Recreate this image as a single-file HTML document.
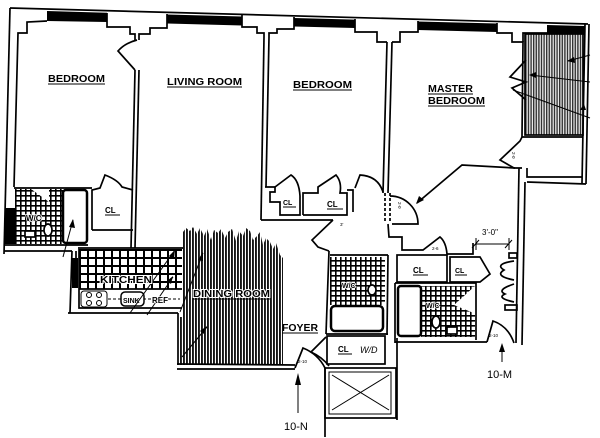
<!DOCTYPE html>
<html><head><meta charset="utf-8"><style>
html,body{margin:0;padding:0;background:#fff;}
svg{display:block;}
text{font-family:"Liberation Sans",sans-serif;fill:#000;}
.b{font-weight:bold;font-size:10px;}
.s{font-weight:bold;font-size:8px;}
.t{font-size:4.5px;}
</style></head><body>
<svg width="600" height="438" viewBox="0 0 600 438" xmlns="http://www.w3.org/2000/svg">
<defs>
<pattern id="hd" width="3" height="4" patternUnits="userSpaceOnUse"><rect width="3" height="4" fill="#fff"/><rect width="1.9" height="4" fill="#151515"/></pattern>
<pattern id="hc" width="2.6" height="4" patternUnits="userSpaceOnUse"><rect width="2.6" height="4" fill="#eee"/><rect width="1.4" height="4" fill="#333"/></pattern>
<pattern id="tk" x="79" y="249" width="8" height="8" patternUnits="userSpaceOnUse"><rect width="8" height="8" fill="#fff"/><path d="M0 1H8M1 0V8" stroke="#000" stroke-width="2"/></pattern>
<pattern id="tb" width="5" height="5" patternUnits="userSpaceOnUse"><rect width="5" height="5" fill="#fff"/><path d="M0 .8H5M.8 0V5" stroke="#000" stroke-width="1.6"/></pattern>
</defs>

<g fill="#000">
<polygon points="47,11 107,12.7 107,22 47,21"/>
<polygon points="167,14.5 242,16.5 242,25.5 167,23.5"/>
<polygon points="294,18 355,19.6 355,28 294,26.5"/>
<polygon points="418,21.5 497,23.5 497,32 418,30"/>
<polygon points="547,25 585,26 585,35 547,34"/>
<rect x="5" y="208" width="10" height="36"/>
<rect x="72" y="258" width="6" height="30"/>
</g>

<rect x="525" y="34" width="58" height="101" fill="url(#hc)" stroke="#000" stroke-width="1.7"/>

<polygon fill="url(#hd)" points="183,232 186,228 190,231 193,227 197,234 200,228 204,236 207,229 211,240 214,230 218,233 221,229 225,238 228,232 232,229 236,241 239,231 243,236 246,228 250,231 253,240 257,236 260,232 263,245 266,238 270,242 273,249 276,243 280,255 283,258 283,365 180,365 180,317 183,317"/>

<rect x="79" y="249" width="103" height="40" fill="url(#tk)"/>
<rect x="15" y="189" width="48" height="55" fill="url(#tb)"/>
<polygon points="31,189 49,189 49,202" fill="#fff"/>
<rect x="330" y="257" width="55" height="48" fill="url(#tb)"/>
<rect x="421" y="286" width="54" height="51" fill="url(#tb)"/>
<polygon points="476,285 454,305 476,314" fill="#fff"/>

<g fill="none" stroke="#000" stroke-width="1.7" stroke-linejoin="miter">
<path d="M10,8 L588,24"/>
<path d="M10,8 L4,254"/>
<path d="M14,187 L18,33 L27,33 L27,22 L47,21"/>
<path d="M107,13 L107,27 L130,27 L130,34 L135,34 L135,40"/>
<path d="M139,40 L139,34 L150,34 L150,28 L167,28 L167,14"/>
<path d="M135,70 L131,248"/><path d="M139,70 L135,248"/>
<path d="M135,70 L118,51 Q125,43 137,40"/>
<path d="M242,15 L242,27 L257,27 L257,33 L264,33 L264,37"/>
<path d="M269,37 L269,33 L277,33 L277,29 L294,29 L294,17"/>
<path d="M264,37 L261,220"/><path d="M269,37 L266,187"/>
<path d="M355,19 L355,32 L377,32 L377,42 L387,42"/>
<path d="M392,42 L400,42 L400,32 L418,32 L418,21"/>
<path d="M387,42 L383,193"/><path d="M392,42 L388,193"/>
<path d="M497,23 L497,33 L512,33 L512,42 L523,42 L522,137"/>
<path d="M523,42 L523,33 L547,33"/>
<path d="M585,24 L582,183"/><path d="M589,24 L586,184"/>
<path d="M526,60 L510,77 L526,82 L512,88 L526,100"/>
<path d="M522,137 L583,137"/>
<path d="M522,137 L520,141 L500,160 L514,168 L522,168"/>
<path d="M527,168 L527,177 L582,177"/>
<path d="M586,184 L527,182"/>
<path d="M519,168 L516,343"/><path d="M525,182 L522,345"/>
<path d="M385,193 L385,223 M390,193 L390,223" stroke-dasharray="3,2"/>
<path d="M390,196 A28,28 0 0 1 418,224 L392,224"/>
<path d="M515,168 L462,165 L417,203"/>
<path d="M265,187 L275,187 L275,192 L270,192 L270,202 L280,202 L280,215 L300,215 L300,196"/>
<path d="M275,187 L291,175 Q299,180 300,196"/>
<path d="M303,215 L303,193 L318,193 L318,187 L336,175 Q342,182 340,193 L347,193 L347,215 L303,215"/>
<path d="M347,190 L353,190 L353,212"/>
<path d="M261,220 L333,220"/>
<path d="M355,188 L360,175 Q378,176 383,192"/>
<path d="M333,220 L312,240 L318,247 L329,251"/>
<path d="M329,251 L326,334"/>
<path d="M330,255 L388,255"/>
<path d="M388,224 L389,237 L402,237 L402,250 L423,250 L440,237 Q446,242 447,254 L473,254 L473,243"/>
<path d="M388,255 L387,335"/>
<path d="M326,334 L388,334"/>
<rect x="331" y="306" width="52" height="25" rx="4" stroke-width="2.5" fill="#fff"/>
<rect x="397" y="255" width="50" height="27"/>
<path d="M450,257 L480,257 L490,274 L480,282 L450,282 Z"/>
<path d="M395,283 L476,283 L476,340"/>
<path d="M395,283 L395,343"/>
<rect x="398" y="286" width="23" height="50" rx="3" stroke-width="2.5" fill="#fff"/>
<path d="M395,342 L487,342 M397,338 L397,420"/>
<path d="M475,244 L508,244 M476,238 L476,250 M509,238 L509,250 M472,248 L479,240 M505,248 L512,240" stroke-width="1"/>
<rect x="509" y="253" width="8" height="5"/>
<rect x="505" y="305" width="12" height="5"/>
<path d="M514,261 Q494,264 504,270 Q494,276 514,280"/>
<path d="M514,284 Q496,290 505,294 Q496,298 514,302"/>
<path d="M487,342 L493,321 Q508,326 514,343"/>
<rect x="327" y="336" width="58" height="28"/>
<path d="M326,337 L311,352 Q322,357 329,366"/>
<path d="M177,364 L295,365 M177,369 L295,369"/>
<path d="M295,368 L303,348 Q318,354 325,368"/>
<path d="M325,368 L325,437"/>
<rect x="325" y="368" width="71" height="50"/>
<rect x="329" y="372" width="62" height="42" stroke-width="1"/>
<path d="M332,375 L389,410 M389,375 L332,410" stroke-width="1"/>
<path d="M14,188 L92,188"/>
<rect x="63" y="190" width="24" height="53" rx="3" stroke-width="2.5" fill="#fff"/>
<path d="M92,230 L92,190 L100,188 L105,175 Q118,180 122,187 L133,190 M92,230 L133,230"/>
<path d="M5,245 L88,245"/>
<path d="M4,251 L72,251 M72,251 L70,313 M76,251 L76,258"/>
<path d="M78,248 L183,248 M79,289 L182,289 M79,249 L79,308 L182,308"/>
<path d="M68,313 L178,313 M178,313 L178,365"/>
<path d="M108,299 L180,299" stroke-dasharray="3,2" stroke-width="1"/>
<rect x="81" y="291" width="26" height="16" rx="3" fill="#fff" stroke-width="1"/>
<circle cx="89" cy="295" r="2.5" stroke-width="1"/><circle cx="99" cy="295" r="2.5" stroke-width="1"/>
<circle cx="89" cy="303" r="2.5" stroke-width="1"/><circle cx="99" cy="303" r="2.5" stroke-width="1"/>
<rect x="121" y="292" width="23" height="14" rx="4" fill="#fff" stroke-width="1.5"/>
<ellipse cx="48" cy="230" rx="4" ry="6" fill="#fff"/>
<rect x="25" y="231" width="10" height="6" fill="#fff"/>
<ellipse cx="372" cy="290" rx="4" ry="5" fill="#fff"/>
<ellipse cx="436" cy="322" rx="4" ry="6" fill="#fff"/>
<rect x="447" y="327" width="10" height="7" fill="#fff"/>
<g stroke-width="1">
<path d="M590,55 L568,61 M590,82 L530,75 M590,118 L513,90"/>
<path d="M63,257 L73,220"/>
<path d="M130,313 L175,250 M147,315 L173,277"/>
<path d="M180,312 L203,253 M182,357 L207,327"/>
<path d="M298,413 L298,380 M502,362 L502,347"/>
</g>
</g>
<g fill="#000">
<polygon points="567,61 574,57 575,63"/>
<polygon points="529,75 536,72 536,78"/>
<polygon points="584,104 580,110 586,110"/>
<polygon points="416,204 419,196 424,200"/>
<polygon points="73,219 69,227 75,228"/>
<polygon points="175,250 169,256 174,259"/>
<polygon points="173,276 167,281 171,284"/>
<polygon points="203,252 198,260 203,261"/>
<polygon points="207,326 200,331 204,334"/>
<polygon points="298,373 295,385 301,385"/>
<polygon points="502,343 499,352 505,352"/>
</g>

<g class="b">
<text x="48" y="82" textLength="57" lengthAdjust="spacingAndGlyphs">BEDROOM</text>
<text x="167" y="85" textLength="75" lengthAdjust="spacingAndGlyphs">LIVING ROOM</text>
<text x="293" y="88" textLength="59" lengthAdjust="spacingAndGlyphs">BEDROOM</text>
<text x="428" y="92" textLength="45" lengthAdjust="spacingAndGlyphs">MASTER</text>
<text x="428" y="104" textLength="57" lengthAdjust="spacingAndGlyphs">BEDROOM</text>
<text x="193" y="297" textLength="77" lengthAdjust="spacingAndGlyphs" stroke="#fff" stroke-width="2" paint-order="stroke">DINING ROOM</text>
<text x="282" y="331" textLength="36" lengthAdjust="spacingAndGlyphs">FOYER</text>
<text x="100" y="283" textLength="52" lengthAdjust="spacingAndGlyphs" stroke="#fff" stroke-width="2" paint-order="stroke">KITCHEN</text>
</g>
<g stroke="#000" stroke-width="1">
<path d="M48,84H105M167,87H242M293,90H352M428,94H473M428,106H485M193,299H270M282,333H318"/>
<path d="M105,215H120M283,207H296M327,209H343M338,354H352M413,275H428M455,275H467"/>
</g>
<g class="s">
<text x="105" y="213">CL</text>
<text x="283" y="205" font-size="7">CL</text>
<text x="327" y="207">CL</text>
<text x="338" y="352">CL</text>
<text x="413" y="273">CL</text>
<text x="455" y="273" font-size="7">CL</text>
<text x="26" y="221" stroke="#fff" stroke-width="1.5" paint-order="stroke">W/C</text>
<text x="342" y="288" font-size="7" stroke="#fff" stroke-width="1.5" paint-order="stroke">W/C</text>
<text x="426" y="308" font-size="7" stroke="#fff" stroke-width="1.5" paint-order="stroke">W/C</text>
<text x="123" y="303" font-size="7">SINK</text>
<text x="152" y="303" font-size="8" stroke="#fff" stroke-width="1.5" paint-order="stroke">REF</text>
</g>
<text x="360" y="353" font-size="9" font-style="italic">W/D</text>
<text x="482" y="235" font-size="8">3'-0"</text>
<text x="487" y="378" font-size="11">10-M</text>
<text x="284" y="430" font-size="11">10-N</text>
<g class="t">
<text x="432" y="250">2-6</text>
<text x="489" y="337">2-10</text>
<text x="298" y="363">2-10</text>
<text x="340" y="226">3'</text>
<text transform="translate(398,202) rotate(90)">2-0</text>
<text transform="translate(512,152) rotate(90)">2-0</text>
</g>
</svg>
</body></html>
